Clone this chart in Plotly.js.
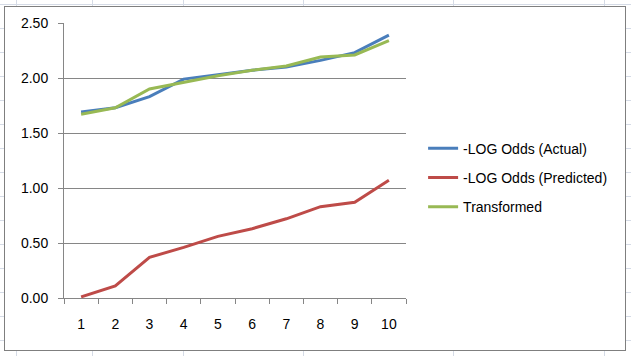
<!DOCTYPE html>
<html>
<head>
<meta charset="utf-8">
<script src="https://cdn.plot.ly/plotly-3.0.1.min.js"></script>
<style>
  html, body { margin: 0; padding: 0; width: 631px; height: 356px; overflow: hidden; }
  body {
    position: relative;
    background-color: #ffffff;
    background-image: repeating-linear-gradient(to bottom, #d5dbe6 0px, #d5dbe6 1px, transparent 1px, transparent 24px);
    background-position: 0 4px;
  }
  .vline { position: absolute; top: 0; width: 1px; height: 356px; background: #d5dbe6; }
  #frame { position: absolute; left: 4px; top: 6px; width: 620px; height: 343px; background: #ffffff; border: 1px solid #7f7f7f; }
  #chart { position: absolute; left: 0; top: 0; width: 631px; height: 356px; }
</style>
</head>
<body>
<div class="vline" style="left:16px"></div>
<div class="vline" style="left:92px"></div>
<div class="vline" style="left:183px"></div>
<div class="vline" style="left:303px"></div>
<div class="vline" style="left:453px"></div>
<div class="vline" style="left:604px"></div>
<div id="frame"></div>
<div id="chart"></div>
<script>
const categories = ['1','2','3','4','5','6','7','8','9','10'];
const actual      = [1.69, 1.73, 1.83, 1.99, 2.03, 2.07, 2.10, 2.16, 2.23, 2.39];
const predicted   = [0.01, 0.11, 0.37, 0.46, 0.56, 0.63, 0.72, 0.83, 0.87, 1.07];
const transformed = [1.67, 1.73, 1.90, 1.96, 2.02, 2.07, 2.11, 2.19, 2.21, 2.34];
const seriesNames = ['-LOG Odds (Actual)', '-LOG Odds (Predicted)', 'Transformed'];
const yTicks = [0, 0.5, 1.0, 1.5, 2.0, 2.5];

const colors = ['#4a7ebb', '#be4b48', '#98b954'];
const series = [actual, predicted, transformed];

const traces = series.map((vals, i) => ({
  type: 'scatter',
  mode: 'lines',
  x: categories,
  y: vals,
  name: seriesNames[i],
  legendgroup: 'g' + i,
  line: { color: colors[i], width: 3 },
  hoverinfo: 'skip'
}));

const font = { family: 'Liberation Sans, Arial, sans-serif', size: 14, color: '#000000' };

const layout = {
  width: 631,
  height: 356,
  margin: { l: 64, r: 225, t: 23.3, b: 57.7, pad: 0 },
  paper_bgcolor: 'rgba(0,0,0,0)',
  plot_bgcolor: 'rgba(0,0,0,0)',
  font: font,
  showlegend: true,
  legend: {
    x: 1.05, xanchor: 'left',
    y: 0.4375, yanchor: 'middle',
    bgcolor: 'rgba(0,0,0,0)',
    font: font,
    tracegroupgap: 8,
    traceorder: 'grouped'
  },
  xaxis: {
    type: 'category',
    range: [-0.5, 9.5],
    showgrid: false,
    showline: true,
    linecolor: '#868686',
    linewidth: 1,
    ticks: 'outside',
    tickson: 'boundaries',
    ticklen: 5,
    tickcolor: '#868686',
    ticklabelstandoff: 13,
    zeroline: false,
    fixedrange: true
  },
  yaxis: {
    range: [0, 2.5],
    tickvals: yTicks,
    tickformat: '.2f',
    showgrid: true,
    gridcolor: '#868686',
    gridwidth: 1,
    showline: true,
    linecolor: '#868686',
    linewidth: 1,
    ticks: 'outside',
    ticklen: 5,
    tickcolor: '#868686',
    ticklabelstandoff: 7,
    zeroline: false,
    fixedrange: true
  }
};

Plotly.newPlot('chart', traces, layout, { staticPlot: true, displayModeBar: false });
</script>
</body>
</html>
